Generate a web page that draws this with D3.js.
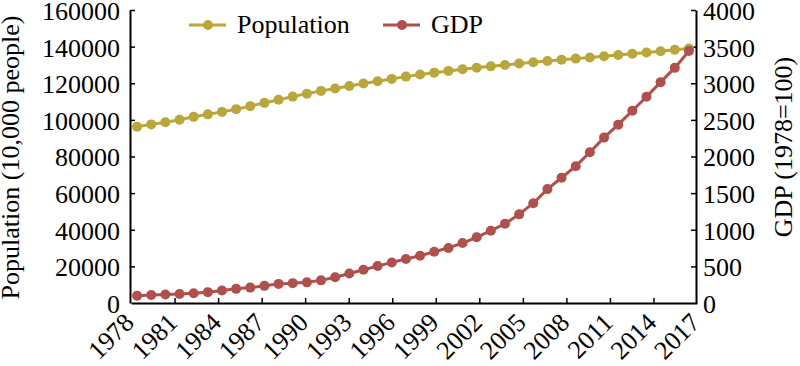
<!DOCTYPE html>
<html>
<head>
<meta charset="utf-8">
<script src="https://cdn.jsdelivr.net/npm/d3@7"></script>
<style>
    body { margin: 0; background: #fff; }
    text { font-family: "Liberation Serif", "Times New Roman", serif; fill: #000; }
</style>
</head>
<body>
<div id="chart"></div>
<script>
const years = d3.range(1978, 2018);
const tickYears = [1978, 1981, 1984, 1987, 1990, 1993, 1996, 1999, 2002, 2005, 2008, 2011, 2014, 2017];

// population, 10,000 people
const population = [
    96259, 97542, 98705, 100072, 101654, 103008, 104357, 105851, 107507, 109300,
    111026, 112704, 114333, 115823, 117171, 118517, 119850, 121121, 122389, 123626,
    124761, 125786, 126743, 127627, 128453, 129227, 129988, 130756, 131448, 132129,
    132802, 133450, 134091, 134735, 135404, 136072, 136782, 137462, 138271, 139008
];

// GDP index, 1978 = 100
const gdp = [
    100, 108, 116, 122, 133, 148, 170, 193, 210, 234,
    261, 271, 282, 309, 352, 402, 454, 504, 554, 600,
    645, 700, 752, 818, 897, 987, 1082, 1210, 1362, 1555,
    1710, 1868, 2058, 2258, 2435, 2625, 2815, 3015, 3210, 3440
];

const popTicks = [0, 20000, 40000, 60000, 80000, 100000, 120000, 140000, 160000];
const gdpTicks = [0, 500, 1000, 1500, 2000, 2500, 3000, 3500, 4000];

const seriesNames = ["Population", "GDP"];
const colors = ["#b9a739", "#b04f4b"];

const width = 800;
const height = 366;
const plotLeft = 130;
const plotRight = 696;
const plotTop = 10;
const plotBottom = 303;
const fontSize = 26;

const svg = d3.select("#chart")
    .append("svg")
    .attr("width", width)
    .attr("height", height);

const xScale = d3.scalePoint()
    .domain(years)
    .range([plotLeft, plotRight])
    .padding(0.5);

// tick labels sit evenly along the axis
const xTickScale = d3.scaleLinear()
    .domain([1978, 2017])
    .range([plotLeft + 1, plotRight + 1]);

const yPop = d3.scaleLinear()
    .domain([0, 160000])
    .range([plotBottom, plotTop]);

const yGdp = d3.scaleLinear()
    .domain([0, 4000])
    .range([plotBottom, plotTop]);

// axes
const xAxis = d3.axisBottom(xTickScale)
    .tickValues(tickYears)
    .tickFormat(d3.format("d"))
    .tickSize(-5)
    .tickSizeOuter(0);

const gx = svg.append("g")
    .attr("transform", "translate(0," + plotBottom + ")")
    .call(xAxis);
gx.selectAll(".tick line").filter(d => d === 1978 || d === 2017).remove();
gx.selectAll(".tick text")
    .attr("y", 0)
    .attr("dy", 0)
    .attr("text-anchor", "end")
    .attr("transform", "translate(4,21) rotate(-45)")
    .style("font-size", fontSize + "px")
    .style("font-family", "Liberation Serif");

const yAxisLeft = d3.axisLeft(yPop)
    .tickValues(popTicks)
    .tickFormat(d3.format("d"))
    .tickSize(-5)
    .tickSizeOuter(0)
    .tickPadding(10);

const gyl = svg.append("g")
    .attr("transform", "translate(" + plotLeft + ",0)")
    .call(yAxisLeft);
gyl.selectAll(".tick line").filter(d => d === 0).remove();

const yAxisRight = d3.axisRight(yGdp)
    .tickValues(gdpTicks)
    .tickFormat(d3.format("d"))
    .tickSize(-5)
    .tickSizeOuter(0)
    .tickPadding(7);

const gyr = svg.append("g")
    .attr("transform", "translate(" + plotRight + ",0)")
    .call(yAxisRight);
gyr.selectAll(".tick line").filter(d => d === 0).remove();

[gyl, gyr].forEach(g => {
    g.selectAll(".tick text")
        .attr("dy", "0.36em")
        .style("font-size", fontSize + "px")
        .style("font-family", "Liberation Serif");
});

[gx, gyl, gyr].forEach(g => {
    g.select(".domain").attr("stroke", "#000").attr("stroke-width", 2);
    g.selectAll(".tick line").attr("stroke", "#000").attr("stroke-width", 1.5);
});

// axis titles
svg.append("text")
    .attr("transform", "translate(19," + ((plotTop + plotBottom) / 2 + 1) + ") rotate(-90)")
    .attr("text-anchor", "middle")
    .style("font-size", fontSize + "px")
    .text("Population (10,000 people)");

svg.append("text")
    .attr("transform", "translate(792,147) rotate(-90)")
    .attr("text-anchor", "middle")
    .style("font-size", fontSize + "px")
    .text("GDP (1978=100)");

// lines and markers
const seriesData = [
    years.map((y, i) => ({ x: y, y: yPop(population[i]) })),
    years.map((y, i) => ({ x: y, y: yGdp(gdp[i]) }))
];

const line = d3.line()
    .x(d => xScale(d.x))
    .y(d => d.y);

seriesData.forEach((data, s) => {
    svg.append("path")
        .datum(data)
        .attr("fill", "none")
        .attr("stroke", colors[s])
        .attr("stroke-width", 3)
        .attr("d", line);

    svg.append("g")
        .selectAll("circle")
        .data(data)
        .enter()
        .append("circle")
        .attr("r", 5)
        .attr("cx", d => xScale(d.x))
        .attr("cy", d => d.y)
        .attr("fill", colors[s]);
});

// legend
const legend = svg.append("g")
    .attr("transform", "translate(189,25)");

const legendX = [0, 194];

legend.selectAll("line")
    .data(seriesNames)
    .enter()
    .append("line")
    .attr("x1", (d, i) => legendX[i])
    .attr("x2", (d, i) => legendX[i] + 37)
    .attr("y1", 0)
    .attr("y2", 0)
    .attr("stroke", (d, i) => colors[i])
    .attr("stroke-width", 3);

legend.selectAll("circle")
    .data(seriesNames)
    .enter()
    .append("circle")
    .attr("cx", (d, i) => legendX[i] + 19)
    .attr("cy", 0)
    .attr("r", 5)
    .attr("fill", (d, i) => colors[i]);

legend.selectAll("text")
    .data(seriesNames)
    .enter()
    .append("text")
    .attr("x", (d, i) => legendX[i] + 48)
    .attr("y", 8)
    .style("font-size", fontSize + "px")
    .text(d => d);
</script>
</body>
</html>
